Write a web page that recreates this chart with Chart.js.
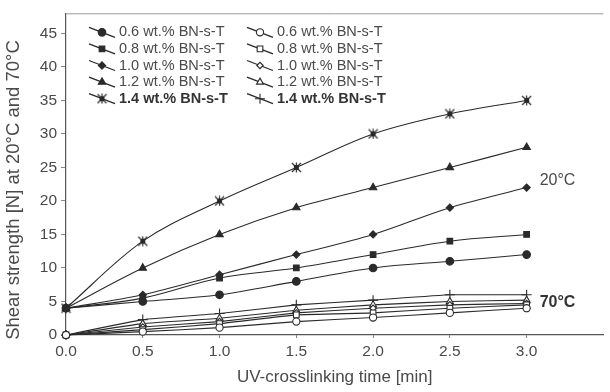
<!DOCTYPE html>
<html>
<head>
<meta charset="utf-8">
<script src="https://cdn.jsdelivr.net/npm/chart.js@4/dist/chart.umd.min.js"></script>
<style>
  html, body { margin: 0; padding: 0; background: #fff; }
  #wrap { width: 610px; height: 392px; position: relative; }
</style>
</head>
<body>
<div id="wrap"><canvas id="shearChart"></canvas></div>
<script>
// ==================== Data ====================

const times = [0, 0.5, 1.0, 1.5, 2.0, 2.5, 3.0];
const xTicks = [0, 0.5, 1.0, 1.5, 2.0, 2.5, 3.0];
const yTicks = [0, 5, 10, 15, 20, 25, 30, 35, 40, 45];

const loadings = ['0.6 wt.% BN-s-T', '0.8 wt.% BN-s-T', '1.0 wt.% BN-s-T', '1.2 wt.% BN-s-T', '1.4 wt.% BN-s-T'];

// shear strength at 20°C
const s20_06 = [4, 5, 6, 8, 10, 11, 12];
const s20_08 = [4, 5.5, 8.5, 10, 12, 14, 15];
const s20_10 = [4, 6, 9, 12, 15, 19, 22];
const s20_12 = [4, 10, 15, 19, 22, 25, 28];
const s20_14 = [4, 14, 20, 25, 30, 33, 35];

// shear strength at 70°C
const s70_06 = [0, 0.5, 1.1, 2.0, 2.6, 3.3, 4.0];
const s70_08 = [0, 0.8, 1.7, 3.0, 3.3, 4.0, 4.5];
const s70_10 = [0, 1.2, 2.0, 3.3, 4.0, 4.5, 4.7];
const s70_12 = [0, 1.7, 2.5, 3.7, 4.5, 5.0, 5.2];
const s70_14 = [0, 2.3, 3.2, 4.5, 5.2, 6.0, 6.0];

const tempLabels = [
    { text: '20°C', x: 3.0, y: 23.1, bold: false },
    { text: '70°C', x: 3.0, y: 4.9, bold: true }
];

const yTitle = 'Shear strength [N] at 20°C and 70°C';

// ==================== Styling ====================

const FONT = 'Arial, "Liberation Sans", sans-serif';
const TEXT = '#4a4a4a';
const LINE = '#2a2a2a';

// asterisk-in-a-square marker used for the 1.4 wt.% series at 20°C
function makeStarSquare() {
    const c = document.createElement('canvas');
    c.width = 11; c.height = 11;
    const g = c.getContext('2d');
    g.fillStyle = LINE;
    g.fillRect(3, 3, 5, 5);
    g.strokeStyle = LINE;
    g.lineWidth = 1.2;
    g.beginPath();
    g.moveTo(1, 1); g.lineTo(10, 10);
    g.moveTo(10, 1); g.lineTo(1, 10);
    g.moveTo(5.5, 0.5); g.lineTo(5.5, 10.5);
    g.stroke();
    return c;
}
const starSquare = makeStarSquare();

function series(label, values, style, radius, filled, group) {
    return {
        label: label,
        data: times.map((t, i) => ({ x: t, y: values[i] })),
        borderColor: LINE,
        borderWidth: 1.1,
        tension: group === 20 ? 0.35 : 0.1,
        pointStyle: style,
        pointRadius: radius,
        pointBorderWidth: 1.1,
        pointBorderColor: LINE,
        pointBackgroundColor: filled ? LINE : '#ffffff',
        clip: false,
        fill: false,
        group: group
    };
}

const datasets = [
    series(loadings[0], s70_06, 'circle', 3.6, false, 70),
    series(loadings[1], s70_08, 'rect', 4, false, 70),
    series(loadings[2], s70_10, 'rectRot', 3.2, false, 70),
    series(loadings[3], s70_12, 'triangle', 4, false, 70),
    series(loadings[4], s70_14, 'cross', 5, false, 70),
    series(loadings[0], s20_06, 'circle', 3.8, true, 20),
    series(loadings[1], s20_08, 'rect', 4, true, 20),
    series(loadings[2], s20_10, 'rectRot', 3.6, true, 20),
    series(loadings[3], s20_12, 'triangle', 4.3, true, 20),
    series(loadings[4], s20_14, starSquare, 5.5, true, 20)
];

// ==================== Plugins ====================

// top frame line, rotated y title and the 20°C / 70°C tags
const framePlugin = {
    id: 'frame',
    afterDraw(chart) {
        const { ctx, chartArea, scales } = chart;
        ctx.save();
        ctx.strokeStyle = '#9a9a9a';
        ctx.lineWidth = 1;
        ctx.beginPath();
        ctx.moveTo(chartArea.left, chartArea.top + 0.5);
        ctx.lineTo(chartArea.right, chartArea.top + 0.5);
        ctx.stroke();

        ctx.save();
        ctx.translate(14, 190);
        ctx.rotate(-Math.PI / 2);
        ctx.font = '18.5px ' + FONT;
        ctx.fillStyle = TEXT;
        ctx.textAlign = 'center';
        ctx.textBaseline = 'middle';
        ctx.fillText(yTitle, 0, 0);
        ctx.restore();

        ctx.textBaseline = 'middle';
        ctx.textAlign = 'left';
        tempLabels.forEach(t => {
            ctx.font = (t.bold ? 'bold ' : '') + '16px ' + FONT;
            ctx.fillStyle = t.bold ? '#333' : TEXT;
            ctx.fillText(t.text, scales.x.getPixelForValue(t.x) + 13, scales.y.getPixelForValue(t.y));
        });
        ctx.restore();
    }
};

// two-column legend with slanted line samples
const legendPlugin = {
    id: 'slantLegend',
    afterDraw(chart) {
        const { ctx, chartArea } = chart;
        const cols = [{ group: 20, x: chartArea.left + 23 }, { group: 70, x: chartArea.left + 181 }];
        const rowTop = chartArea.top + 19;
        const rowGap = 16.6;
        ctx.save();
        cols.forEach(col => {
            const items = chart.data.datasets
                .map((ds, i) => ({ ds, i }))
                .filter(o => o.ds.group === col.group);
            items.forEach((o, row) => {
                const y = rowTop + row * rowGap;
                const x0 = col.x, x1 = col.x + 26;
                ctx.strokeStyle = LINE;
                ctx.lineWidth = 1.3;
                ctx.beginPath();
                ctx.moveTo(x0, y - 5);
                ctx.lineTo(x1, y + 5);
                ctx.stroke();
                const opts = chart.getDatasetMeta(o.i).data[0].options;
                ctx.fillStyle = opts.backgroundColor;
                ctx.strokeStyle = opts.borderColor;
                ctx.lineWidth = opts.borderWidth;
                Chart.helpers.drawPoint(ctx, {
                    pointStyle: opts.pointStyle,
                    radius: opts.radius,
                    borderWidth: opts.borderWidth,
                    rotation: 0
                }, (x0 + x1) / 2, y);
                const last = row === items.length - 1;
                ctx.font = (last ? 'bold ' : '') + '14.5px ' + FONT;
                ctx.fillStyle = last ? '#333' : TEXT;
                ctx.textBaseline = 'middle';
                ctx.textAlign = 'left';
                ctx.fillText(o.ds.label, x1 + 4, y);
            });
        });
        ctx.restore();
    }
};

// ==================== Chart ====================

new Chart(document.getElementById('shearChart'), {
    type: 'line',
    data: { datasets: datasets },
    plugins: [framePlugin, legendPlugin],
    options: {
        responsive: true,
        maintainAspectRatio: false,
        animation: false,
        layout: { padding: { top: 12, right: 0, left: 0, bottom: 0 } },
        plugins: {
            legend: { display: false },
            tooltip: { enabled: false }
        },
        scales: {
            x: {
                type: 'linear',
                min: 0,
                max: 3.5,
                afterBuildTicks: s => { s.ticks = xTicks.map(v => ({ value: v })); },
                afterFit: s => { s.height = 57; },
                border: { color: '#555', width: 1.2 },
                grid: { drawOnChartArea: false, drawTicks: true, tickLength: 3, color: '#888' },
                ticks: {
                    color: TEXT,
                    font: { family: FONT, size: 15.5 },
                    padding: 4,
                    maxRotation: 0,
                    callback: v => v.toFixed(1)
                },
                title: {
                    display: true,
                    text: 'UV-crosslinking time [min]',
                    color: TEXT,
                    font: { family: FONT, size: 17 },
                    padding: { top: 2, bottom: 4 }
                }
            },
            y: {
                min: 0,
                max: 48,
                afterBuildTicks: s => { s.ticks = yTicks.map(v => ({ value: v })); },
                afterFit: s => { s.width = 66; },
                border: { color: '#555', width: 1.2 },
                grid: { drawOnChartArea: false, drawTicks: true, tickLength: 5, color: '#888' },
                ticks: {
                    color: TEXT,
                    font: { family: FONT, size: 15.5 },
                    padding: 4
                }
            }
        }
    }
});
</script>
</body>
</html>
